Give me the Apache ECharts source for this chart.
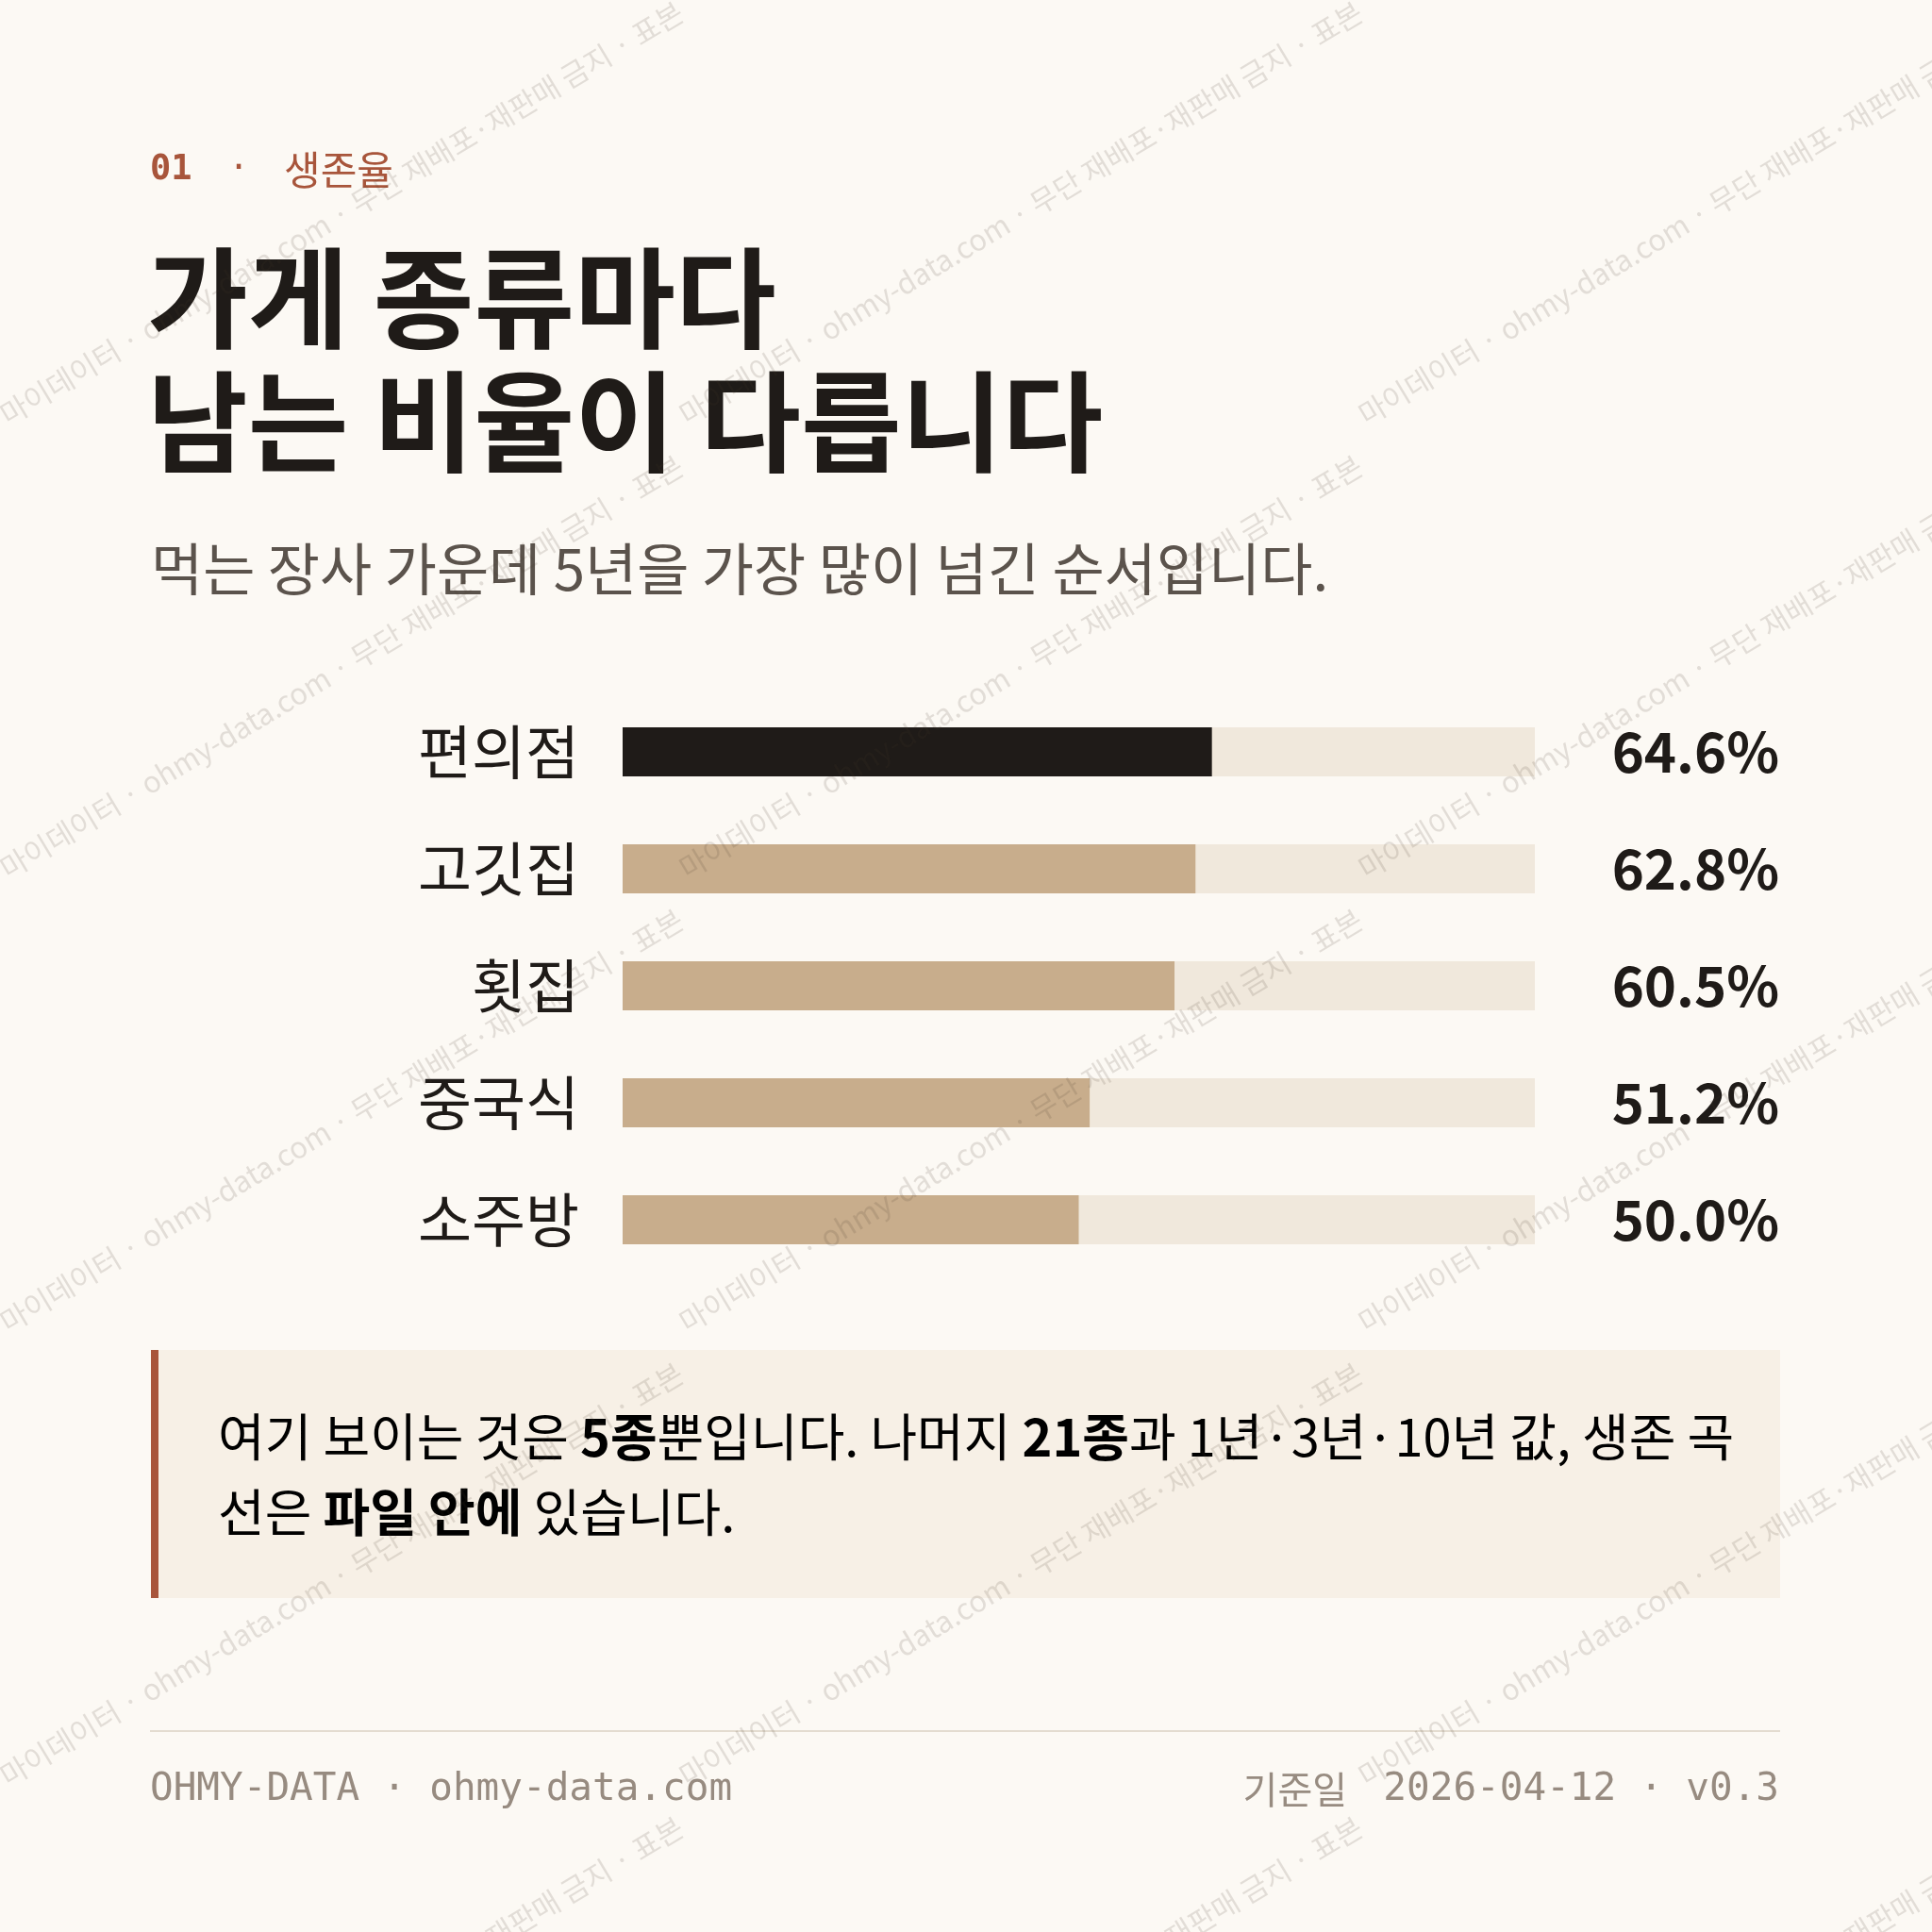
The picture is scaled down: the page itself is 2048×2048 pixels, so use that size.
<!DOCTYPE html>
<html>
<head>
<meta charset="utf-8">
<title>생존율</title>
<script src="https://cdn.jsdelivr.net/npm/echarts@6/dist/echarts.min.js"></script>
<style>
    html, body { margin: 0; padding: 0; background: #fcf9f4; }
    #main { width: 2048px; height: 2048px; }
</style>
</head>
<body>
<div id="main"></div>
<script>
    // 데이터
    var categories = ['편의점', '고깃집', '횟집', '중국식', '소주방'];
    var survival = [64.6, 62.8, 60.5, 51.2, 50.0];
    var highlight = '편의점';

    var kickerNo = '01';
    var kickerText = '생존율';
    var titleLines = ['가게 종류마다', '남는 비율이 다릅니다'];
    var subtitle = '먹는 장사 가운데 5년을 가장 많이 넘긴 순서입니다.';
    var footerLeft = 'OHMY-DATA · ohmy-data.com';
    var footerDateLabel = '기준일';
    var footerRight = '2026-04-12 · v0.3';
    var watermark = '마이데이터 · ohmy-data.com · 무단 재배포·재판매 금지 · 표본';

    var KR = '"Noto Sans CJK KR", "Noto Sans", sans-serif';
    var MONO = '"DejaVu Sans Mono", "Liberation Mono", "Noto Sans CJK KR", monospace';
    var INK = '#1f1b18';
    var SOFT = '#5b534c';
    var ACCENT = '#a8553b';
    var MUTED = '#978b80';

    var myChart = echarts.init(document.getElementById('main'));

    var graphics = [
        // 머리말
        {type: 'text', x: 159, y: 180, style: {text: kickerNo, fontFamily: MONO, fontSize: 37, fontWeight: 'bold', fill: ACCENT, verticalAlign: 'middle'}},
        {type: 'text', x: 253, y: 180, style: {text: '·', fontFamily: MONO, fontSize: 36, fill: ACCENT, align: 'center', verticalAlign: 'middle'}},
        {type: 'text', x: 301, y: 180, style: {text: kickerText, fontFamily: KR, fontSize: 42, fill: ACCENT, verticalAlign: 'middle'}},
        // 제목
        {type: 'text', x: 156, y: 316, style: {text: titleLines[0], fontFamily: KR, fontSize: 116, fontWeight: 'bold', fill: INK, verticalAlign: 'middle'}},
        {type: 'text', x: 156, y: 447, style: {text: titleLines[1], fontFamily: KR, fontSize: 116, fontWeight: 'bold', fill: INK, verticalAlign: 'middle'}},
        {type: 'text', x: 160, y: 603, style: {text: subtitle, fontFamily: KR, fontSize: 60, fill: SOFT, verticalAlign: 'middle'}},
        // 설명 상자
        {type: 'rect', shape: {x: 160, y: 1431, width: 1727, height: 263}, style: {fill: '#f7f0e6'}},
        {type: 'rect', shape: {x: 160, y: 1431, width: 8, height: 263}, style: {fill: ACCENT}},
        {
            type: 'text', x: 231, y: 1483,
            style: {
                text: '{n|여기 보이는 것은 }{b|5종}{n|뿐입니다. 나머지 }{b|21종}{n|과 1년·3년·10년 값, 생존 곡}\n{n|선은 }{b|파일 안에}{n| 있습니다.}',
                verticalAlign: 'top',
                rich: {
                    n: {fontFamily: KR, fontSize: 54, color: SOFT, lineHeight: 80},
                    b: {fontFamily: KR, fontSize: 54, fontWeight: 'bold', color: INK, lineHeight: 80}
                }
            }
        },
        // 바닥글
        {type: 'rect', shape: {x: 159, y: 1834, width: 1728, height: 2}, style: {fill: '#e4dcd0'}},
        {type: 'text', x: 159, y: 1897, style: {text: footerLeft, fontFamily: MONO, fontSize: 41, fill: MUTED, verticalAlign: 'middle'}},
        {type: 'text', x: 1886, y: 1897, style: {text: footerRight, fontFamily: MONO, fontSize: 41, fill: MUTED, align: 'right', verticalAlign: 'middle'}},
        {type: 'text', x: 1428, y: 1897, style: {text: footerDateLabel, fontFamily: KR, fontSize: 40, fill: MUTED, align: 'right', verticalAlign: 'middle'}}
    ];

    // 워터마크
    for (var r = 0; r < 5; r++) {
        for (var c = 0; c < 3; c++) {
            graphics.push({
                type: 'text',
                x: 362 + 720 * c,
                y: 226 + 481 * r,
                rotation: 31 * Math.PI / 180,
                z: 100,
                silent: true,
                style: {
                    text: watermark,
                    fontFamily: KR,
                    fontSize: 31,
                    fill: 'rgba(70,55,40,0.14)',
                    align: 'center',
                    verticalAlign: 'middle'
                }
            });
        }
    }

    var option = {
        backgroundColor: '#fcf9f4',
        animation: false,
        grid: {left: 660, right: 421, top: 735, height: 620, outerBoundsMode: 'none'},
        xAxis: {type: 'value', min: 0, max: 100, show: false},
        yAxis: [
            {
                type: 'category',
                data: categories,
                inverse: true,
                axisLine: {show: false},
                axisTick: {show: false},
                axisLabel: {fontFamily: KR, fontSize: 62, color: INK, margin: 46}
            },
            {
                type: 'category',
                data: categories,
                inverse: true,
                position: 'right',
                axisLine: {show: false},
                axisTick: {show: false},
                axisLabel: {
                    fontFamily: KR,
                    fontSize: 58,
                    fontWeight: 'bold',
                    color: INK,
                    align: 'right',
                    margin: 259,
                    padding: [12, 0, 0, 0],
                    formatter: function (v, i) {
                        return survival[i].toFixed(1) + '%';
                    }
                }
            }
        ],
        series: [{
            type: 'bar',
            barWidth: 52,
            showBackground: true,
            backgroundStyle: {color: '#f0e8dc'},
            data: survival.map(function (v, i) {
                return {
                    value: v,
                    itemStyle: {color: categories[i] === highlight ? INK : '#c8ad8c'}
                };
            })
        }],
        graphic: graphics
    };

    myChart.setOption(option);
</script>
</body>
</html>
